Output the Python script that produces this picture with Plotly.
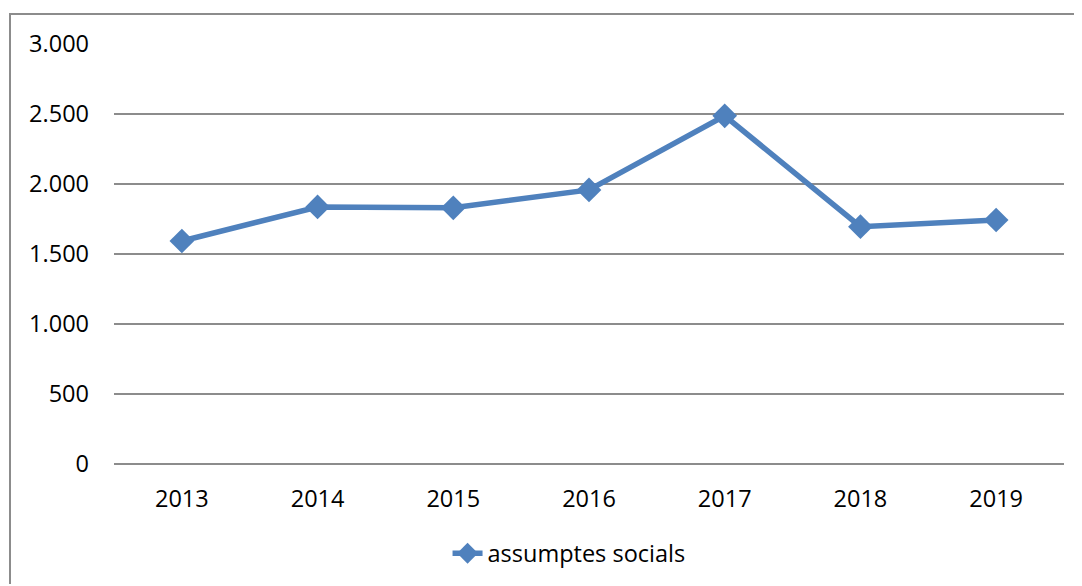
import plotly.graph_objects as go

years = ["2013", "2014", "2015", "2016", "2017", "2018", "2019"]
assumptes_socials = [1593, 1836, 1830, 1958, 2487, 1695, 1743]
series_name = "assumptes socials"
y_ticks = [0, 500, 1000, 1500, 2000, 2500, 3000]

BLUE = "#4F81BD"
GRID = "#8C8C8C"
FONT = "Open Sans"
FS = 23.5

fig = go.Figure()
fig.add_trace(go.Scatter(
    x=years, y=assumptes_socials, name=series_name, mode="lines+markers",
    line=dict(color=BLUE, width=5.5),
    marker=dict(symbol="diamond", size=19, color=BLUE),
))

fig.update_layout(
    width=1066, height=576,
    margin=dict(l=106, r=10, t=36, b=120, autoexpand=False),
    paper_bgcolor="white", plot_bgcolor="white",
    separators=",.",
    font=dict(family=FONT, size=FS, color="#000000"),
    showlegend=True,
    legend=dict(orientation="h", x=0.479, xanchor="center", y=-0.213, yanchor="middle",
                font=dict(family=FONT, size=FS, color="#000000"),
                bgcolor="rgba(0,0,0,0)"),
    xaxis=dict(type="category", range=[-0.5, 6.5], showgrid=False, zeroline=False,
               showline=False, ticks="", ticklabelstandoff=18, automargin=False,
               tickfont=dict(family=FONT, size=FS)),
    yaxis=dict(range=[0, 3000], tickvals=y_ticks, tickformat=",d", showgrid=True,
               gridcolor=GRID, gridwidth=2, zeroline=True, zerolinecolor=GRID,
               zerolinewidth=2, showline=False, ticks="", ticklabelstandoff=24,
               automargin=False, tickfont=dict(family=FONT, size=FS)),
    shapes=[dict(type="rect", xref="paper", yref="paper",
                 x0=(2 - 106) / 950, x1=1.2, y0=-0.6, y1=1 + 30 / 420,
                 line=dict(color="#8C8C8C", width=2), fillcolor="rgba(0,0,0,0)",
                 layer="below")],
)

fig.write_html("out.html")
